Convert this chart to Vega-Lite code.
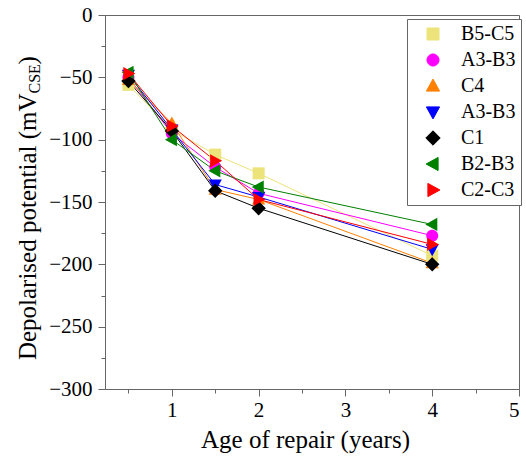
{
  "$schema": "https://vega.github.io/schema/vega-lite/v6.json",
  "width": 414,
  "height": 374,
  "autosize": {"type": "none"},
  "padding": {"left": 105, "top": 15, "right": 7, "bottom": 68},
  "background": "white",
  "config": {
    "view": {"stroke": "#666666", "strokeWidth": 1},
    "font": "Liberation Serif",
    "axis": {
      "grid": false,
      "domainColor": "#666666",
      "tickColor": "#666666",
      "labelColor": "black",
      "titleColor": "black",
      "labelFont": "Liberation Serif",
      "titleFont": "Liberation Serif",
      "labelFontSize": 21,
      "titleFontSize": 25,
      "titleFontWeight": "normal"
    }
  },
  "data": {
    "values": [
      {"age": 0.5, "potential": -56, "series": "B5-C5"},
      {"age": 1, "potential": -92, "series": "B5-C5"},
      {"age": 1.5, "potential": -112, "series": "B5-C5"},
      {"age": 2, "potential": -127, "series": "B5-C5"},
      {"age": 4, "potential": -193, "series": "B5-C5"},
      {"age": 0.5, "potential": -50, "series": "A3-B3"},
      {"age": 1, "potential": -95, "series": "A3-B3"},
      {"age": 1.5, "potential": -122, "series": "A3-B3"},
      {"age": 2, "potential": -143, "series": "A3-B3"},
      {"age": 4, "potential": -177, "series": "A3-B3"},
      {"age": 0.5, "potential": -52, "series": "C4"},
      {"age": 1, "potential": -87, "series": "C4"},
      {"age": 1.5, "potential": -140, "series": "C4"},
      {"age": 2, "potential": -148, "series": "C4"},
      {"age": 4, "potential": -199, "series": "C4"},
      {"age": 0.5, "potential": -48, "series": "A3-B3 (blue)"},
      {"age": 1, "potential": -92, "series": "A3-B3 (blue)"},
      {"age": 1.5, "potential": -136, "series": "A3-B3 (blue)"},
      {"age": 2, "potential": -146, "series": "A3-B3 (blue)"},
      {"age": 4, "potential": -188, "series": "A3-B3 (blue)"},
      {"age": 0.5, "potential": -53, "series": "C1"},
      {"age": 1, "potential": -93, "series": "C1"},
      {"age": 1.5, "potential": -141, "series": "C1"},
      {"age": 2, "potential": -155, "series": "C1"},
      {"age": 4, "potential": -200, "series": "C1"},
      {"age": 0.5, "potential": -46, "series": "B2-B3"},
      {"age": 1, "potential": -100, "series": "B2-B3"},
      {"age": 1.5, "potential": -125, "series": "B2-B3"},
      {"age": 2, "potential": -138, "series": "B2-B3"},
      {"age": 4, "potential": -168, "series": "B2-B3"},
      {"age": 0.5, "potential": -47, "series": "C2-C3"},
      {"age": 1, "potential": -89, "series": "C2-C3"},
      {"age": 1.5, "potential": -117, "series": "C2-C3"},
      {"age": 2, "potential": -148, "series": "C2-C3"},
      {"age": 4, "potential": -184, "series": "C2-C3"}
    ]
  },
  "resolve": {"axis": {"x": "independent", "y": "independent"}},
  "layer": [
    {
      "mark": {"type": "line", "strokeWidth": 1},
      "encoding": {
        "x": {
          "field": "age", "type": "quantitative",
          "scale": {"domain": [0.23, 5], "nice": false, "zero": false},
          "axis": {
            "orient": "bottom",
            "values": [1, 2, 3, 4, 5],
            "tickSize": 7,
            "labelPadding": 3,
            "title": "Age of repair (years)",
            "titleX": 200,
            "titleY": 58,
            "titleAlign": "center",
            "titleBaseline": "alphabetic"
          }
        },
        "y": {
          "field": "potential", "type": "quantitative",
          "scale": {"domain": [-300, 0], "nice": false, "zero": false},
          "axis": {
            "orient": "left",
            "values": [-300, -250, -200, -150, -100, -50, 0],
            "tickSize": 7,
            "labelPadding": 6,
            "title": "Depolarised potential (mV",
            "titleAngle": -90,
            "titleX": -70,
            "titleY": 78,
            "titleAlign": "right",
            "titleBaseline": "alphabetic"
          }
        },
        "color": {
          "field": "series", "type": "nominal"
        },
        "detail": {"field": "series"}
      }
    },
    {
      "mark": {"type": "point", "filled": true, "size": 144, "opacity": 1},
      "encoding": {
        "x": {
          "field": "age", "type": "quantitative",
          "axis": {
            "orient": "bottom",
            "values": [0.5, 1.5, 2.5, 3.5, 4.5],
            "tickSize": 4,
            "labels": false,
            "domain": false,
            "title": ")",
            "titleAngle": -90,
            "titleX": -70,
            "titleY": -325,
            "titleAlign": "left",
            "titleBaseline": "alphabetic",
            "titleFontSize": 25
          }
        },
        "y": {
          "field": "potential", "type": "quantitative",
          "axis": {
            "orient": "left",
            "values": [-275, -225, -175, -125, -75, -25],
            "tickSize": 4,
            "labels": false,
            "domain": false,
            "title": "CSE",
            "titleAngle": -90,
            "titleX": -66,
            "titleY": 78,
            "titleAlign": "left",
            "titleBaseline": "alphabetic",
            "titleFontSize": 16
          }
        },
        "color": {
          "field": "series", "type": "nominal",
          "scale": {
            "domain": ["B5-C5", "A3-B3", "C4", "A3-B3 (blue)", "C1", "B2-B3", "C2-C3"],
            "range": ["#ECE37A", "#FF00FF", "#FF8000", "#0000FF", "#000000", "#008000", "#FF0000"]
          },
          "legend": {
            "orient": "none",
            "legendX": 302,
            "legendY": 4,
            "title": null,
            "strokeColor": "#666666",
            "fillColor": "white",
            "padding": 5,
            "symbolSize": 144,
            "symbolOffset": 11,
            "labelOffset": 18,
            "rowPadding": 6,
            "symbolStrokeWidth": 1,
            "symbolStrokeColor": {"expr": "scale('color', datum.value)"},
            "labelFont": "Liberation Serif",
            "labelFontSize": 20,
            "labelColor": "black",
            "labelLimit": 0,
            "labelExpr": "split(datum.label, ' ')[0]",
            "encode": {
              "symbols": {
                "shape": {"value": {"expr": "'M-3.8,0H3.8' + scale('shape', datum.value)"}},
                "stroke": {"value": {"expr": "scale('color', datum.value)"}},
                "strokeWidth": {"value": 1},
                "opacity": {"value": 1}
              }
            }
          }
        },
        "shape": {
          "field": "series", "type": "nominal",
          "legend": null,
          "scale": {
            "domain": ["B5-C5", "A3-B3", "C4", "A3-B3 (blue)", "C1", "B2-B3", "C2-C3"],
            "range": [
              "M-1,-1H1V1H-1Z",
              "M-1,0A1,1,0,1,0,1,0A1,1,0,1,0,-1,0Z",
              "M0,-1.15L1.1,0.85H-1.1Z",
              "M0,1.15L1.1,-0.85H-1.1Z",
              "M0,-1.2L1.2,0L0,1.2L-1.2,0Z",
              "M-1.15,0L0.85,-1.1V1.1Z",
              "M1.15,0L-0.85,-1.1V1.1Z"
            ]
          }
        }
      }
    }
  ]
}
